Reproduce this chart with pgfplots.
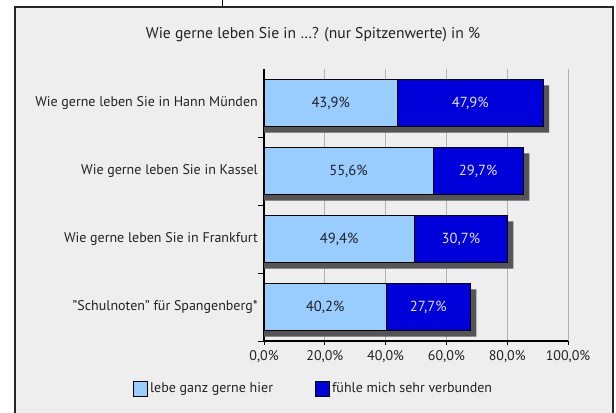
\documentclass[border=0pt]{standalone}
\usepackage{pgfplots}
\pgfplotsset{compat=1.18}
\usepackage{fontspec}
\setmainfont{PT Sans}
\definecolor{panel}{RGB}{238,238,238}
\definecolor{lblue}{RGB}{153,204,255}
\definecolor{dblue}{RGB}{0,0,218}
\definecolor{shadow}{RGB}{85,85,85}
\definecolor{gridc}{RGB}{178,178,178}
\definecolor{txt}{RGB}{34,34,34}
\definecolor{wtxt}{RGB}{225,225,255}
\begin{document}
\fontsize{14bp}{17bp}\selectfont
\begin{tikzpicture}
\useasboundingbox (0,0) rectangle (616bp,413bp);
\fill[white] (0,0) rectangle (616bp,413bp);
\draw[black, line width=0.8bp] (222bp,406bp) -- (222bp,413bp);
\fill[panel] (15bp,-5bp) rectangle (613bp,406bp);
\draw[black!85, line width=1.2bp] (15bp,-5bp) rectangle (613bp,406bp);
\node[text=txt, anchor=center, font=\fontsize{15.6bp}{18bp}\selectfont] at (313bp,378bp) {Wie gerne leben Sie in …? (nur Spitzenwerte) in \%};
\begin{axis}[
  at={(264bp,72bp)}, anchor=south west,
  scale only axis, width=304bp, height=272bp,
  xmin=0, xmax=100, ymin=-0.5, ymax=3.5,
  axis x line*=bottom, axis y line*=left,
  axis line style={black, line width=1.1bp},
  xtick={0,20,40,60,80,100},
  xticklabels={{0,0\%},{20,0\%},{40,0\%},{60,0\%},{80,0\%},{100,0\%}},
  xmajorgrids, major grid style={gridc, line width=1bp},
  ytick={0,1,2,3},
  yticklabels={{"Schulnoten" für Spangenberg*},{Wie gerne leben Sie in Frankfurt},{Wie gerne leben Sie in Kassel},{Wie gerne leben Sie in Hann Münden}},
  minor ytick={-0.5,0.5,1.5,2.5},
  tick align=outside,
  major tick length=4bp, minor tick length=6bp,
  major y tick style={draw=none},
  minor y tick style={black, line width=1bp},
  major x tick style={black, line width=1bp},
  yticklabel style={text=txt, anchor=east, inner sep=0pt, xshift=-2bp},
  xticklabel style={text=txt, anchor=north, inner sep=0pt, yshift=-5bp},
  tick label style={font=\fontsize{14bp}{17bp}\selectfont},
  clip=false,
  legend style={at={(-0.441,-0.1765)}, anchor=west, draw=none, fill=none,
    legend columns=2, font=\fontsize{14bp}{17bp}\selectfont, text=txt,
    /tikz/every even column/.append style={column sep=40bp},
    legend cell align=left},
  legend image code/.code={\draw[#1] (0bp,-7.5bp) rectangle (14bp,7.5bp);},
]
\addlegendimage{fill=lblue, draw=black, line width=1bp}
\addlegendentry{lebe ganz gerne hier}
\addlegendimage{fill=dblue, draw=black, line width=1bp}
\addlegendentry{fühle mich sehr verbunden}
% shadow (total + offset of 6px = 1.97%)
\addplot[forget plot, xbar, bar width=47bp, bar shift=-6bp, fill=shadow, draw=none]
  coordinates {(93.77,3) (87.27,2) (82.07,1) (69.87,0)};
% totals (dark blue)
\addplot[forget plot, xbar, bar width=47bp, bar shift=0bp, fill=dblue, draw=black, line width=0.9bp]
  coordinates {(91.8,3) (85.3,2) (80.1,1) (67.9,0)};
% first segment (light blue)
\addplot[forget plot, xbar, bar width=47bp, bar shift=0bp, fill=lblue, draw=black, line width=0.9bp]
  coordinates {(43.9,3) (55.6,2) (49.4,1) (40.2,0)};
% labels
\addplot[forget plot, only marks, mark=none, nodes near coords, point meta=explicit symbolic,
  nodes near coords style={anchor=center, text=txt, font=\fontsize{14.6bp}{17bp}\selectfont}]
  table[meta=label] {
x y label
21.95 3 {43,9\%}
27.80 2 {55,6\%}
24.70 1 {49,4\%}
20.10 0 {40,2\%}
};
\addplot[forget plot, only marks, mark=none, nodes near coords, point meta=explicit symbolic,
  nodes near coords style={anchor=center, text=wtxt, font=\fontsize{14.6bp}{17bp}\selectfont}]
  table[meta=label] {
x y label
67.85 3 {47,9\%}
70.45 2 {29,7\%}
64.75 1 {30,7\%}
54.05 0 {27,7\%}
};
\end{axis}
\end{tikzpicture}
\end{document}
